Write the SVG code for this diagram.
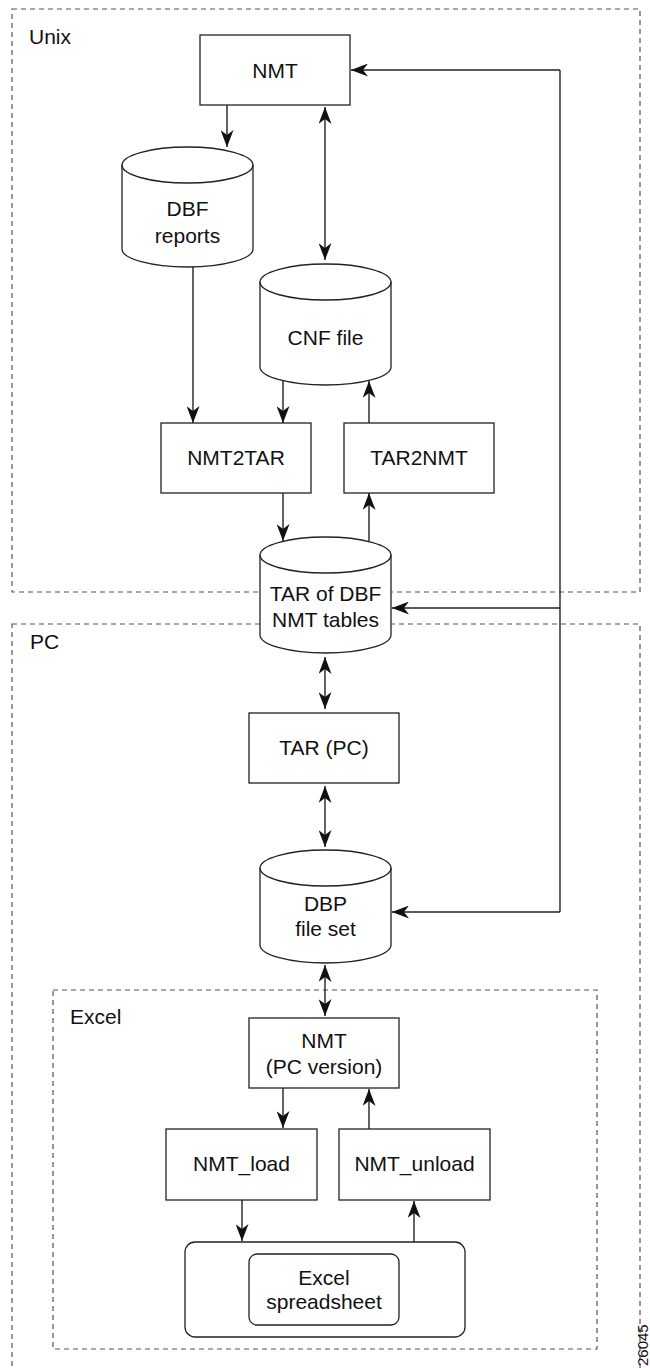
<svg xmlns="http://www.w3.org/2000/svg" width="650" height="1368" viewBox="0 0 650 1368">
<style>
.grp{fill:none;stroke:#555;stroke-width:1.2;stroke-dasharray:5 4}
.box{fill:#fff;stroke:#222;stroke-width:1.3}
.cyl{fill:#fff;stroke:#222;stroke-width:1.3}
.cl{fill:none;stroke:#222;stroke-width:1.4}
.t{font-family:"Liberation Sans",Arial,Helvetica,sans-serif;font-size:21px;fill:#111;text-anchor:middle}
.lbl{font-family:"Liberation Sans",Arial,Helvetica,sans-serif;font-size:21px;fill:#111}
.fig{font-family:"Liberation Sans",Arial,Helvetica,sans-serif;font-size:15px;fill:#111}
</style>
<defs>
<marker id="ah" viewBox="0 0 17 13" refX="17" refY="6.5" markerWidth="17" markerHeight="13" markerUnits="userSpaceOnUse" orient="auto-start-reverse">
<path d="M0,0 L17,6.5 L0,13 L5,6.5 Z" fill="#111"/>
</marker>
</defs>
<rect width="650" height="1368" fill="#fff"/>
<g id="group-unix">
<rect class="grp" x="12" y="9" width="628" height="583"/>
<text class="lbl" x="29" y="44">Unix</text>
</g>
<g id="group-pc">
<rect class="grp" x="12" y="624" width="628" height="760"/>
<text class="lbl" x="30" y="649">PC</text>
</g>
<g id="group-excel">
<rect class="grp" x="53" y="990" width="544" height="359"/>
<text class="lbl" x="70" y="1024">Excel</text>
</g>
<g id="connectors">
<line class="cl" x1="227" y1="105" x2="227" y2="147" marker-end="url(#ah)"/>
<line class="cl" x1="325" y1="107" x2="325" y2="260" marker-start="url(#ah)" marker-end="url(#ah)"/>
<line class="cl" x1="193" y1="267" x2="193" y2="423" marker-end="url(#ah)"/>
<line class="cl" x1="283" y1="381" x2="283" y2="423" marker-end="url(#ah)"/>
<line class="cl" x1="369" y1="423" x2="369" y2="381" marker-end="url(#ah)"/>
<line class="cl" x1="283" y1="493" x2="283" y2="541" marker-end="url(#ah)"/>
<line class="cl" x1="369" y1="541" x2="369" y2="493" marker-end="url(#ah)"/>
<line class="cl" x1="325" y1="657" x2="325" y2="709" marker-start="url(#ah)" marker-end="url(#ah)"/>
<line class="cl" x1="325" y1="786" x2="325" y2="847" marker-start="url(#ah)" marker-end="url(#ah)"/>
<line class="cl" x1="325" y1="965" x2="325" y2="1016" marker-start="url(#ah)" marker-end="url(#ah)"/>
<line class="cl" x1="283" y1="1088" x2="283" y2="1128" marker-end="url(#ah)"/>
<line class="cl" x1="369" y1="1129" x2="369" y2="1089" marker-end="url(#ah)"/>
<line class="cl" x1="242" y1="1200" x2="242" y2="1241" marker-end="url(#ah)"/>
<line class="cl" x1="414" y1="1242" x2="414" y2="1201" marker-end="url(#ah)"/>
<polyline class="cl" points="560,70 560,912"/>
<line class="cl" x1="560" y1="70" x2="351" y2="70" marker-end="url(#ah)"/>
<line class="cl" x1="560" y1="608" x2="392" y2="608" marker-end="url(#ah)"/>
<line class="cl" x1="560" y1="912" x2="392" y2="912" marker-end="url(#ah)"/>
</g>
<g id="node-nmt">
<rect class="box" x="200" y="35" width="150" height="70"/>
<text class="t" x="275" y="77.5">NMT</text>
</g>
<g id="node-dbf-reports">
<path class="cyl" d="M122,165 A65.5,18 0 0,1 253,165 L253,249 A65.5,18 0 0,1 122,249 Z"/>
<path class="cl" d="M122,165 A65.5,18 0 0,0 253,165"/>
<text class="t" x="187.5" y="216">DBF</text>
<text class="t" x="187.5" y="243">reports</text>
</g>
<g id="node-cnf">
<path class="cyl" d="M260,282 A65.5,18 0 0,1 391,282 L391,367 A65.5,18 0 0,1 260,367 Z"/>
<path class="cl" d="M260,282 A65.5,18 0 0,0 391,282"/>
<text class="t" x="325.5" y="344.5">CNF file</text>
</g>
<g id="node-nmt2tar">
<rect class="box" x="161" y="423" width="150" height="70"/>
<text class="t" x="236" y="464.5">NMT2TAR</text>
</g>
<g id="node-tar2nmt">
<rect class="box" x="344" y="423" width="150" height="70"/>
<text class="t" x="419" y="464.5">TAR2NMT</text>
</g>
<g id="node-tar-dbf">
<path class="cyl" d="M260,555 A65.5,18 0 0,1 391,555 L391,635 A65.5,18 0 0,1 260,635 Z"/>
<path class="cl" d="M260,555 A65.5,18 0 0,0 391,555"/>
<text class="t" x="325.5" y="600.5">TAR of DBF</text>
<text class="t" x="325.5" y="627">NMT tables</text>
</g>
<g id="node-tar-pc">
<rect class="box" x="249" y="713" width="150" height="70"/>
<text class="t" x="324" y="754.5">TAR (PC)</text>
</g>
<g id="node-dbp">
<path class="cyl" d="M260,868 A65.5,18 0 0,1 391,868 L391,945 A65.5,18 0 0,1 260,945 Z"/>
<path class="cl" d="M260,868 A65.5,18 0 0,0 391,868"/>
<text class="t" x="325.5" y="910.5">DBP</text>
<text class="t" x="325.5" y="935.5">file set</text>
</g>
<g id="node-nmt-pc">
<rect class="box" x="249" y="1018" width="150" height="70"/>
<text class="t" x="324" y="1047.5">NMT</text>
<text class="t" x="324" y="1074">(PC version)</text>
</g>
<g id="node-nmt-load">
<rect class="box" x="166" y="1129" width="151" height="71"/>
<text class="t" x="241.5" y="1170.5">NMT_load</text>
</g>
<g id="node-nmt-unload">
<rect class="box" x="339" y="1129" width="151" height="71"/>
<text class="t" x="414.5" y="1170.5">NMT_unload</text>
</g>
<g id="node-spreadsheet">
<rect class="box" x="185" y="1242" width="280" height="95" rx="10"/>
<rect class="box" x="249" y="1254" width="150" height="71" rx="8"/>
<text class="t" x="324" y="1284.5">Excel</text>
<text class="t" x="324" y="1309">spreadsheet</text>
</g>
<text class="fig" transform="translate(648,1366) rotate(-90)">26045</text>
</svg>
